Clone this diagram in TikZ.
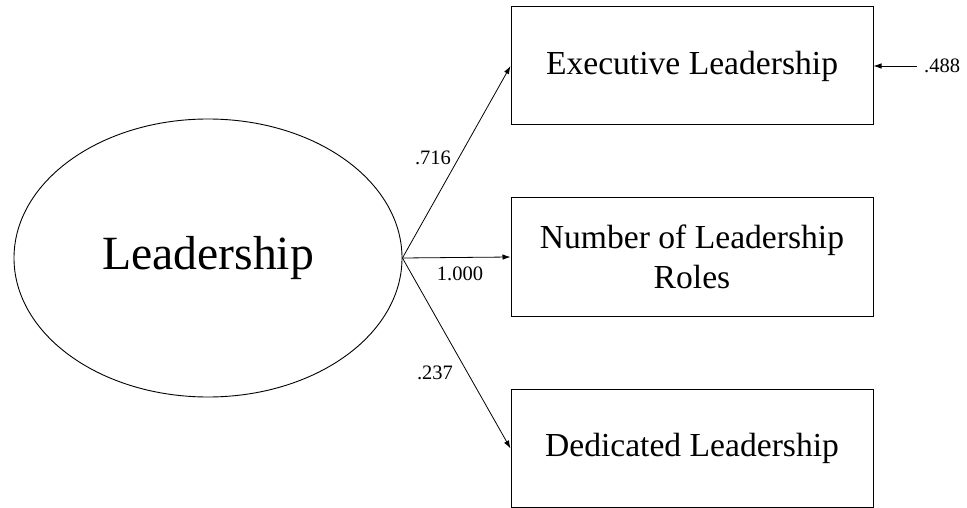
\documentclass[tikz,border=0pt]{standalone}
\usepackage{fontspec}
\setmainfont{Liberation Serif}
\usetikzlibrary{shapes.geometric, arrows.meta}

\tikzset{
	indicator/.style = {draw, line width = 1pt, minimum width = 362pt, minimum height = 118pt, inner sep = 0pt, align = center, font = \fontsize{33.6}{40}\selectfont},
	latent/.style = {draw, ellipse, line width = 0.9pt, minimum width = 388pt, minimum height = 278pt, inner sep = 0pt, font = \fontsize{47.7}{52}\selectfont},
	loading/.style = {inner sep = 0pt, font = \fontsize{20.5}{24}\selectfont}
}

\begin{document}
\begin{tikzpicture}[> = {Latex[length = 8pt, width = 5.5pt]}, x = 1pt, y = -1pt]

	\useasboundingbox (0, 0) rectangle (967, 508);

	% Latent factor
	
	\node [latent] (lead) at (208, 258) {Leadership};
	
	% Observed indicators
	
	\node [indicator] (exec) at (692, 66) {Executive Leadership};
	\node [indicator] (roles) at (692, 257) {Number of Leadership\\Roles};
	\node [indicator] (dedic) at (692, 448.5) {Dedicated Leadership};
	
	% Paths w/loadings
	
	\begin{scope}[line width = 0.8pt]
	
		\draw [->] (lead.east) -- (exec.west);
		\draw [->] (lead.east) -- (roles.west);
		\draw [->] (lead.east) -- (dedic.west);
		
	\end{scope}
	
	\node [loading] (l1) at (433, 158) {.716};
	\node [loading] (l2) at (460, 274) {1.000};
	\node [loading] (l3) at (435, 373) {.237};
	
	% Error term
	
	\coordinate (err) at (917, 66);
	\draw [->, line width = 0.8pt] (err) -- (exec.east);
	\node [loading, anchor = west] (errval) at (924, 66) {.488};

\end{tikzpicture}
\end{document}
